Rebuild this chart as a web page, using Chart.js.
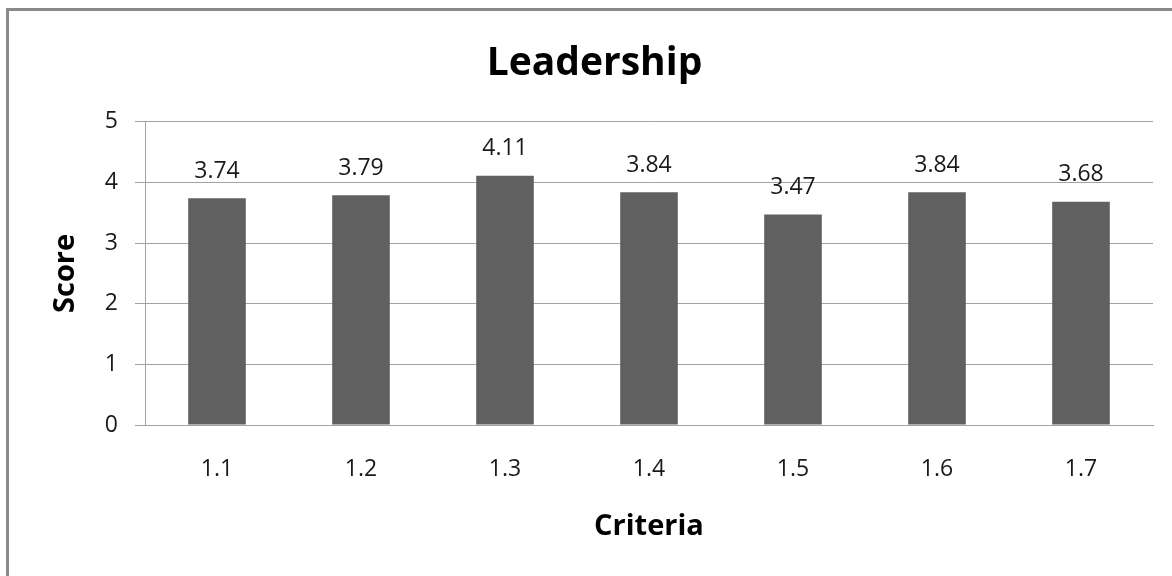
<!DOCTYPE html>
<html>
<head>
<meta charset="utf-8">
<title>Leadership</title>
<script src="https://cdn.jsdelivr.net/npm/chart.js@4.4.1/dist/chart.umd.min.js"></script>
<style>
  html, body { margin: 0; padding: 0; background: #fff; }
  #wrap { position: relative; width: 1172px; height: 576px; overflow: hidden; }
  #frame {
    position: absolute; left: 6px; top: 8px; width: 1300px; height: 700px;
    border-left: 3px solid #8a8a8a; border-top: 3px solid #8a8a8a;
    pointer-events: none;
  }
  canvas { position: absolute; left: 0; top: 0; }
</style>
</head>
<body>
<div id="wrap">
  <canvas id="scoreChart" width="1172" height="576"></canvas>
  <div id="frame"></div>
</div>
<script>
/* ---------- data ---------- */

const criteria = ["1.1", "1.2", "1.3", "1.4", "1.5", "1.6", "1.7"];
const scores = [3.74, 3.79, 4.11, 3.84, 3.47, 3.84, 3.68];
const yTicks = [0, 1, 2, 3, 4, 5];

/* ---------- look ---------- */

const FONT = "'Open Sans', 'Liberation Sans', sans-serif";
const BAR_COLOR = "#606060";
const GRID_COLOR = "#a3a3a3";
const TEXT_COLOR = "#1a1a1a";

// value printed above each bar
const barValues = {
  id: "barValues",
  afterDatasetsDraw(chart) {
    const ctx = chart.ctx;
    const meta = chart.getDatasetMeta(0);
    ctx.save();
    ctx.font = `23px ${FONT}`;
    ctx.fillStyle = TEXT_COLOR;
    ctx.textAlign = "center";
    ctx.textBaseline = "middle";
    meta.data.forEach((bar, i) => {
      const v = chart.data.datasets[0].data[i];
      ctx.fillText(v.toFixed(2), bar.x, bar.y - 27);
    });
    ctx.restore();
  }
};

/* ---------- chart ---------- */

new Chart(document.getElementById("scoreChart").getContext("2d"), {
  type: "bar",
  data: {
    labels: criteria,
    datasets: [{
      data: scores,
      backgroundColor: BAR_COLOR,
      borderWidth: 0,
      categoryPercentage: 1,
      barPercentage: 0.4
    }]
  },
  options: {
    responsive: false,
    animation: false,
    devicePixelRatio: 1,
    layout: { padding: { left: 36, top: 0, right: 19, bottom: 0 } },
    plugins: {
      legend: { display: false },
      tooltip: { enabled: false },
      title: {
        display: true,
        text: "Leadership",
        color: "#000",
        font: { family: FONT, size: 39, weight: "bold", lineHeight: 1.2 },
        padding: { top: 40, bottom: 35 }
      }
    },
    scales: {
      x: {
        grid: { display: false, drawTicks: false },
        border: { display: true, color: GRID_COLOR, width: 1 },
        ticks: {
          color: TEXT_COLOR,
          font: { family: FONT, size: 23 },
          padding: 31
        },
        title: {
          display: true,
          text: "Criteria",
          color: "#000",
          font: { family: FONT, size: 29, weight: "bold", lineHeight: 1.2 },
          padding: { top: 0, bottom: 32 }
        },
        afterFit(scale) { scale.height = 151; }
      },
      y: {
        min: 0,
        max: 5,
        afterBuildTicks(scale) {
          scale.ticks = yTicks.map(v => ({ value: v }));
        },
        grid: {
          color: GRID_COLOR,
          lineWidth: 1,
          tickLength: 10,
          drawTicks: true
        },
        border: { display: true, color: GRID_COLOR, width: 1 },
        ticks: {
          color: TEXT_COLOR,
          font: { family: FONT, size: 23 },
          padding: 17
        },
        title: {
          display: true,
          text: "Score",
          color: "#000",
          font: { family: FONT, size: 29, weight: "bold", lineHeight: 1.2 },
          padding: { top: 12, bottom: 0 }
        },
        afterFit(scale) { scale.width = 109; }
      }
    }
  },
  plugins: [barValues]
});
</script>
</body>
</html>
